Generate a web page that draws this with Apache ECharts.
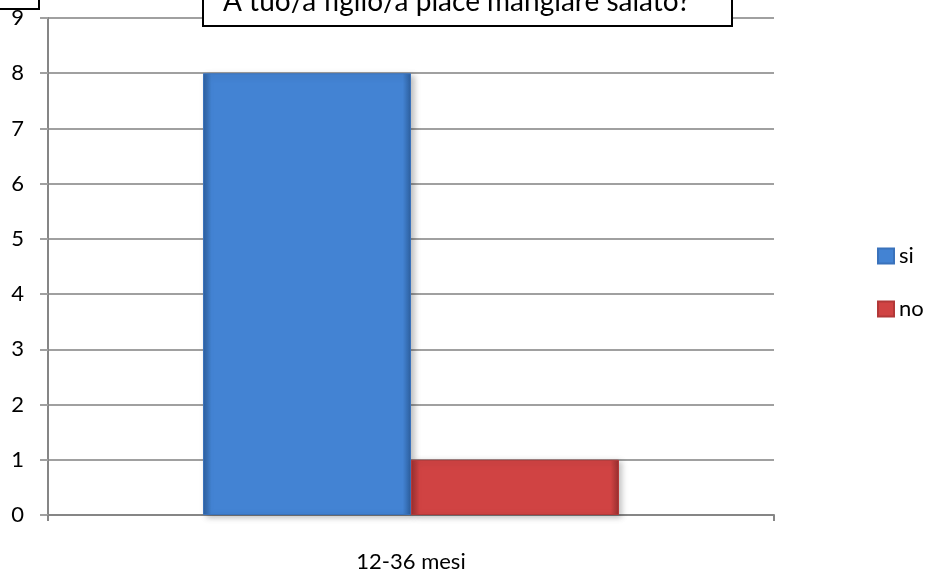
<!DOCTYPE html>
<html>
<head>
<meta charset="utf-8">
<script src="https://cdn.jsdelivr.net/npm/echarts@6/dist/echarts.min.js"></script>
<style>
  html, body { margin: 0; padding: 0; background: #fff; }
  #chart { width: 931px; height: 573px; }
</style>
</head>
<body>
<div id="chart"></div>
<script>
// Survey answers by age group
const categories = ['12-36 mesi'];
const siValues = [8];
const noValues = [1];
const yTicks = [0, 1, 2, 3, 4, 5, 6, 7, 8, 9];
const chartTitle = 'A tuo/a figlio/a piace mangiare salato?';

const FONT = 'Lato, "Open Sans", sans-serif';

function bevel(mid, dark) {
  return {
    type: 'linear', x: 0, y: 0, x2: 1, y2: 0,
    colorStops: [
      { offset: 0, color: dark },
      { offset: 0.04, color: mid },
      { offset: 0.96, color: mid },
      { offset: 1, color: dark }
    ]
  };
}

const chart = echarts.init(document.getElementById('chart'), null, { renderer: 'canvas' });

chart.setOption({
  animation: false,
  backgroundColor: '#ffffff',
  grid: { left: 48, right: 157, top: 18, bottom: 55, containLabel: false },
  legend: {
    orient: 'vertical',
    left: 872,
    top: 240,
    icon: 'rect',
    itemWidth: 16,
    itemHeight: 15,
    itemGap: 31,
    textStyle: { fontFamily: FONT, fontSize: 22, color: '#000' },
    data: ['si', 'no']
  },
  xAxis: {
    type: 'category',
    data: categories,
    axisLine: { lineStyle: { color: '#868686', width: 2 } },
    axisTick: { show: true, length: 6, lineStyle: { color: '#868686', width: 2 } },
    axisLabel: { fontFamily: FONT, fontSize: 22, color: '#000', margin: 36 }
  },
  yAxis: {
    type: 'value',
    min: yTicks[0],
    max: yTicks[yTicks.length - 1],
    interval: 1,
    axisLine: { show: true, lineStyle: { color: '#868686', width: 2 } },
    axisTick: { show: true, length: 8, lineStyle: { color: '#a0a0a0', width: 2 } },
    splitLine: { lineStyle: { color: '#a0a0a0', width: 2 } },
    axisLabel: { fontFamily: FONT, fontSize: 22, color: '#000', margin: 24 }
  },
  series: [
    {
      name: 'si',
      type: 'bar',
      data: siValues,
      barGap: '0%',
      barCategoryGap: '42.7%',
      itemStyle: {
        color: bevel('#4383d3', '#2d5f9e'),
        borderColor: '#3a72bb',
        borderWidth: 1,
        shadowColor: 'rgba(0,0,0,0.25)',
        shadowBlur: 6,
        shadowOffsetX: 3,
        shadowOffsetY: 2
      }
    },
    {
      name: 'no',
      type: 'bar',
      data: noValues,
      itemStyle: {
        color: bevel('#d04343', '#983030'),
        borderColor: '#b23838',
        borderWidth: 1,
        shadowColor: 'rgba(0,0,0,0.25)',
        shadowBlur: 6,
        shadowOffsetX: 3,
        shadowOffsetY: 2
      }
    }
  ],
  graphic: [
    {
      type: 'rect',
      left: 202, top: -30,
      shape: { width: 529, height: 55 },
      style: { fill: '#fff', stroke: '#000', lineWidth: 2 },
      z: 100
    },
    {
      type: 'text',
      left: 223, top: -12,
      style: { text: chartTitle, font: '28px ' + FONT, fill: '#000' },
      z: 101
    },
    {
      type: 'rect',
      left: -20, top: -30,
      shape: { width: 58, height: 38 },
      style: { fill: '#fff', stroke: '#000', lineWidth: 2 },
      z: 100
    }
  ]
});
</script>
</body>
</html>
